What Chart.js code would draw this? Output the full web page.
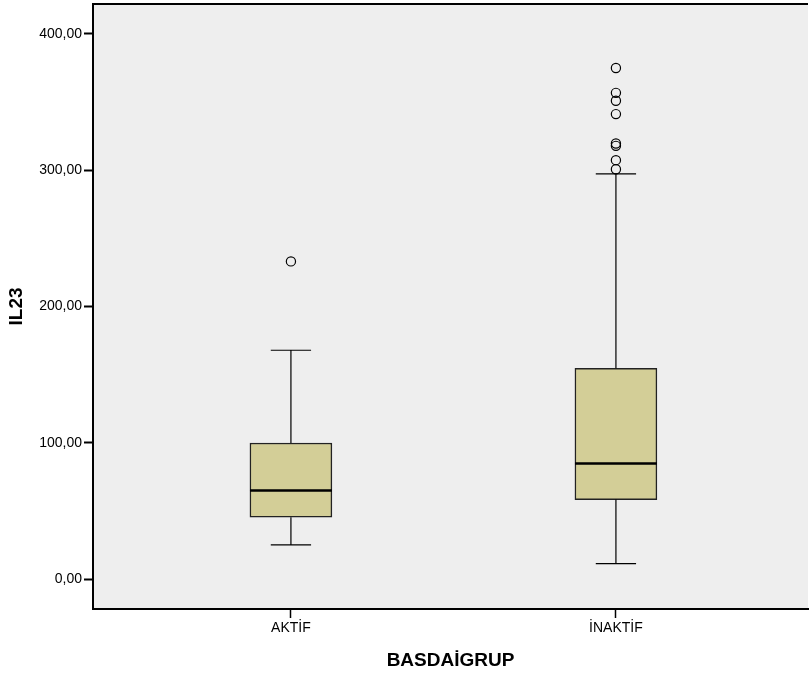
<!DOCTYPE html>
<html>
<head>
<meta charset="utf-8">
<script src="https://cdn.jsdelivr.net/npm/chart.js@4/dist/chart.umd.min.js"></script>
<style>
  body { margin: 0; background: #fff; }
  #wrap { width: 809px; height: 677px; }
</style>
</head>
<body>
<div id="wrap"><canvas id="chart" width="809" height="677"></canvas></div>
<script>
// boxplot values
const categories = ['AKTİF', 'İNAKTİF'];
const q1 = [45.4, 58.3];
const median = [65.0, 84.8];
const q3 = [99.8, 154.6];
const whiskerLow = [25.0, 11.3];
const whiskerHigh = [167.9, 297.4];
const outliers = [
    [233.1],
    [375.0, 356.8, 351.0, 341.2, 319.6, 317.9, 307.4, 300.7]
];
const yTicks = [0, 100, 200, 300, 400];

const boxHalf = 0.126;   // half box width in x units
const capHalf = 0.062;   // half whisker cap width

// whisker segments, broken with null points
const whiskerData = [];
categories.forEach((c, i) => {
    whiskerData.push({ x: i, y: q3[i] }, { x: i, y: whiskerHigh[i] }, { x: i, y: null });
    whiskerData.push({ x: i - capHalf, y: whiskerHigh[i] }, { x: i + capHalf, y: whiskerHigh[i] }, { x: i, y: null });
    whiskerData.push({ x: i, y: q1[i] }, { x: i, y: whiskerLow[i] }, { x: i, y: null });
    whiskerData.push({ x: i - capHalf, y: whiskerLow[i] }, { x: i + capHalf, y: whiskerLow[i] }, { x: i, y: null });
});

const medianData = [];
categories.forEach((c, i) => {
    medianData.push({ x: i - boxHalf, y: median[i] }, { x: i + boxHalf, y: median[i] }, { x: i, y: null });
});

const outlierData = [];
outliers.forEach((list, i) => list.forEach(v => outlierData.push({ x: i, y: v })));

const plotFrame = {
    id: 'plotFrame',
    beforeDraw(chart) {
        const { ctx, chartArea: a } = chart;
        ctx.save();
        ctx.fillStyle = '#eeeeee';
        ctx.fillRect(a.left, a.top, a.right - a.left, a.bottom - a.top);
        ctx.restore();
    },
    afterDraw(chart) {
        const { ctx, chartArea: a } = chart;
        ctx.save();
        ctx.strokeStyle = '#000';
        ctx.lineWidth = 2;
        ctx.beginPath();
        ctx.moveTo(a.left, a.top);
        ctx.lineTo(a.right, a.top);
        ctx.stroke();
        ctx.restore();
    }
};

// keep tick label overhang from pushing the plot area in
function noPadding(s) {
    s.paddingTop = 0;
    s.paddingBottom = 0;
    s.paddingLeft = 0;
    s.paddingRight = 0;
}

Chart.defaults.font.family = "'Liberation Sans', Arial, sans-serif";
Chart.defaults.color = '#000';

new Chart(document.getElementById('chart').getContext('2d'), {
    type: 'bar',
    data: {
        datasets: [
            {
                type: 'scatter',
                data: outlierData,
                pointRadius: 4.6,
                pointBorderColor: '#000',
                pointBackgroundColor: 'rgba(0,0,0,0)',
                pointBorderWidth: 1.2,
                order: 0
            },
            {
                type: 'line',
                data: medianData,
                borderColor: '#000',
                borderWidth: 2.6,
                pointRadius: 0,
                spanGaps: false,
                order: 1
            },
            {
                type: 'line',
                data: whiskerData,
                borderColor: '#000',
                borderWidth: 1.2,
                pointRadius: 0,
                spanGaps: false,
                order: 2
            },
            {
                type: 'bar',
                data: categories.map((c, i) => ({ x: i, y: [q1[i], q3[i]] })),
                backgroundColor: '#d3ce97',
                borderColor: '#222',
                borderWidth: 1.5,
                borderSkipped: false,
                barThickness: 82,
                order: 3
            }
        ]
    },
    options: {
        responsive: false,
        animation: false,
        layout: { autoPadding: false, padding: { top: 4, right: 1, bottom: 0, left: 0 } },
        plugins: {
            legend: { display: false },
            tooltip: { enabled: false }
        },
        scales: {
            x: {
                type: 'linear',
                position: 'bottom',
                offset: false,
                min: -0.609,
                max: 1.591,
                afterBuildTicks: axis => { axis.ticks = categories.map((c, i) => ({ value: i })); },
                afterFit: s => { s.height = 68; noPadding(s); },
                ticks: {
                    callback: v => categories[v] ?? '',
                    autoSkip: false,
                    maxRotation: 0,
                    padding: 2,
                    font: { size: 14 }
                },
                grid: { offset: false, drawOnChartArea: false, tickLength: 9, tickWidth: 1.5, tickColor: '#000' },
                border: { display: true, color: '#000', width: 2 },
                title: {
                    display: true,
                    text: 'BASDAİGRUP',
                    font: { size: 19, weight: 'bold' },
                    padding: { top: 0, bottom: 5 }
                }
            },
            y: {
                min: -22,
                max: 422,
                afterBuildTicks: axis => { axis.ticks = yTicks.map(v => ({ value: v })); },
                afterFit: s => { s.width = 93; noPadding(s); },
                ticks: {
                    callback: v => v.toFixed(2).replace('.', ','),
                    padding: 2,
                    font: { size: 14 }
                },
                grid: { drawOnChartArea: false, tickLength: 9, tickWidth: 2, tickColor: '#000' },
                border: { display: true, color: '#000', width: 2 },
                title: {
                    display: true,
                    text: 'IL23',
                    font: { size: 19, weight: 'bold' },
                    padding: { top: 5, bottom: 0 }
                }
            }
        }
    },
    plugins: [plotFrame]
});
</script>
</body>
</html>
